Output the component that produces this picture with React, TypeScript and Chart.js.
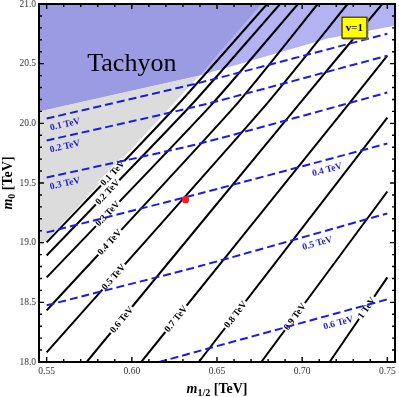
import React, { useEffect, useRef } from 'react';
import { Chart, registerables } from 'chart.js';

Chart.register(...registerables);

const X_MIN = 0.5455;
const X_MAX = 0.7545;
const Y_MIN = 18;
const Y_MAX = 21;

const xTickLabels = [0.55, 0.6, 0.65, 0.7, 0.75];
const yTickLabels = [18, 18.5, 19, 19.5, 20, 20.5, 21];

// Regions (boundary points)
const tachyonX = [X_MIN, 0.6398, 0.715, X_MAX, X_MAX, X_MIN];
const tachyonY = [20.099, 20.401, 20.71, 20.818, 21, 21];
const overlapX = [X_MIN, 0.676, 0.6398, X_MIN];
const overlapY = [21, 21, 20.401, 20.099];
const grayX = [X_MIN, X_MIN, 0.5484, 0.6398];
const grayY = [20.099, 18.98, 18.993, 20.401];

// Solid black contours
const solidLabels = ['0.1 TeV', '0.2 TeV', '0.3 TeV', '0.4 TeV', '0.5 TeV', '0.6 TeV', '0.7 TeV', '0.8 TeV', '0.9 TeV', '1 TeV'];
const solidX = [
  [0.55, 0.6265, 0.6794],
  [0.55, 0.6346, 0.687],
  [0.55, 0.6463, 0.6975],
  [0.55, 0.6608, 0.7091],
  [0.55, 0.6783, 0.7266],
  [0.5735, 0.6975, 0.747],
  [0.6055, 0.7266, 0.75],
  [0.6393, 0.75],
  [0.676, 0.75],
  [0.7161, 0.75],
];
const solidY = [
  [19.002, 20.149, 21],
  [18.893, 20.149, 21],
  [18.709, 20.149, 21],
  [18.433, 20.149, 21],
  [18.081, 20.149, 21],
  [18, 20.149, 21],
  [18, 20.149, 20.567],
  [18, 20.048],
  [18, 19.429],
  [18, 18.709],
];
const solidLabelAt = [0.5887, 0.5857, 0.5857, 0.5869, 0.5892, 0.5939, 0.6259, 0.6608, 0.6957, 0.7378];

// Dashed blue contours
const dashedLabels = ['0.1 TeV', '0.2 TeV', '0.3 TeV', '0.4 TeV', '0.5 TeV', '0.6 TeV'];
const dashedX = [
  [0.55, 0.64, 0.75],
  [0.55, 0.64, 0.75],
  [0.55, 0.64, 0.75],
  [0.55, 0.64, 0.75],
  [0.55, 0.64, 0.75],
  [0.616, 0.75],
];
const dashedY = [
  [20.04, 20.341, 20.751],
  [19.856, 20.149, 20.567],
  [19.546, 19.831, 20.258],
  [19.086, 19.412, 19.831],
  [18.475, 18.804, 19.245],
  [18, 18.525],
];
const dashedLabelAt = [0.5595, 0.5595, 0.5595, 0.7132, 0.7074, 0.7197];

// Benchmark point
const pointX = [0.6315];
const pointY = [19.36];

// Annotation anchors
const TACHYON_AT = { x: 0.6, y: 20.442 };
const BOX_AT = { x0: 0.7231, x1: 0.7383, y0: 20.894, y1: 20.71 };

const BLUE = '#1c1ce0';
const SERIF = '"Liberation Serif", "DejaVu Serif", serif';

const pts = (xs: number[], ys: number[]) => xs.map((x, i) => ({ x, y: ys[i] }));

type LabelInfo = { kind: 'solid' | 'dashed'; text: string; xs: number[]; ys: number[]; at: number };

function interp(xs: number[], ys: number[], x: number) {
  for (let i = 0; i < xs.length - 1; i++) {
    if (x >= xs[i] && x <= xs[i + 1]) {
      const t = (x - xs[i]) / (xs[i + 1] - xs[i]);
      return { y: ys[i] + t * (ys[i + 1] - ys[i]), i };
    }
  }
  return { y: ys[ys.length - 1], i: xs.length - 2 };
}

export default function App() {
  const ref = useRef<HTMLCanvasElement>(null);

  useEffect(() => {
    const canvas = ref.current;
    if (!canvas) return;

    const datasets: any[] = [];
    const labelInfo: Record<number, LabelInfo> = {};

    const region = (xs: number[], ys: number[], color: string, order: number) => ({
      type: 'scatter',
      data: pts(xs, ys),
      showLine: true,
      fill: 'shape',
      backgroundColor: color,
      borderColor: 'rgba(0,0,0,0)',
      borderWidth: 0,
      pointRadius: 0,
      tension: 0,
      order,
    });
    datasets.push(region(tachyonX, tachyonY, '#b3b3f3', 300));
    datasets.push(region(overlapX, overlapY, '#9b9be4', 290));
    datasets.push(region(grayX, grayY, '#dcdcdc', 280));

    solidX.forEach((xs, k) => {
      labelInfo[datasets.length] = { kind: 'solid', text: solidLabels[k], xs, ys: solidY[k], at: solidLabelAt[k] };
      datasets.push({
        type: 'scatter',
        data: pts(xs, solidY[k]),
        showLine: true,
        fill: false,
        borderColor: '#000',
        borderWidth: 2,
        pointRadius: 0,
        tension: 0.2,
        order: 200 - k,
      });
    });

    dashedX.forEach((xs, k) => {
      labelInfo[datasets.length] = { kind: 'dashed', text: dashedLabels[k], xs, ys: dashedY[k], at: dashedLabelAt[k] };
      datasets.push({
        type: 'scatter',
        data: pts(xs, dashedY[k]),
        showLine: true,
        fill: false,
        borderColor: BLUE,
        borderWidth: 2,
        borderDash: [8, 4],
        pointRadius: 0,
        tension: 0.2,
        order: 100 - k,
      });
    });

    datasets.push({
      type: 'scatter',
      data: pts(pointX, pointY),
      showLine: false,
      pointRadius: 3.6,
      pointBackgroundColor: '#ff1a1a',
      pointBorderWidth: 0,
      borderColor: 'rgba(0,0,0,0)',
      order: 1,
    });

    const decor = {
      id: 'decor',
      afterDatasetDraw(chart: any, args: any) {
        const info = labelInfo[args.index];
        if (!info) return;
        const { ctx, chartArea: a } = chart;
        const sx = chart.scales.x;
        const sy = chart.scales.y;
        const r = interp(info.xs, info.ys, info.at);
        const px = sx.getPixelForValue(info.at);
        const py = sy.getPixelForValue(r.y);
        const i = r.i;
        const ang = Math.atan2(
          sy.getPixelForValue(info.ys[i + 1]) - sy.getPixelForValue(info.ys[i]),
          sx.getPixelForValue(info.xs[i + 1]) - sx.getPixelForValue(info.xs[i])
        );
        ctx.save();
        ctx.beginPath();
        ctx.rect(a.left, a.top, a.right - a.left, a.bottom - a.top);
        ctx.clip();
        ctx.translate(px, py);
        ctx.rotate(ang);
        ctx.font = `bold 9.5px ${SERIF}`;
        ctx.textAlign = 'center';
        ctx.textBaseline = 'middle';
        if (info.kind === 'solid') {
          const w = ctx.measureText(info.text).width;
          ctx.fillStyle = '#fff';
          ctx.fillRect(-w / 2 - 1.5, -4.5, w + 3, 9);
          ctx.fillStyle = '#000';
          ctx.fillText(info.text, 0, 0.5);
        } else {
          ctx.fillStyle = BLUE;
          ctx.fillText(info.text, 0, 10);
        }
        ctx.restore();
      },
      afterDatasetsDraw(chart: any) {
        const { ctx } = chart;
        const sx = chart.scales.x;
        const sy = chart.scales.y;
        ctx.save();
        ctx.fillStyle = '#000';
        ctx.font = `26px ${SERIF}`;
        ctx.textAlign = 'center';
        ctx.textBaseline = 'alphabetic';
        ctx.fillText('Tachyon', sx.getPixelForValue(TACHYON_AT.x), sy.getPixelForValue(TACHYON_AT.y));

        const bx0 = sx.getPixelForValue(BOX_AT.x0);
        const bx1 = sx.getPixelForValue(BOX_AT.x1);
        const by0 = sy.getPixelForValue(BOX_AT.y0);
        const by1 = sy.getPixelForValue(BOX_AT.y1);
        ctx.fillStyle = '#888';
        ctx.fillRect(bx0 + 1, by0 + 1, bx1 - bx0, by1 - by0);
        ctx.fillStyle = '#ffff00';
        ctx.fillRect(bx0, by0, bx1 - bx0, by1 - by0);
        ctx.strokeStyle = '#000';
        ctx.lineWidth = 1;
        ctx.strokeRect(bx0 + 0.5, by0 + 0.5, bx1 - bx0 - 1, by1 - by0 - 1);
        ctx.fillStyle = '#000';
        ctx.font = `bold 11px ${SERIF}`;
        ctx.textAlign = 'center';
        ctx.textBaseline = 'middle';
        ctx.fillText('v=1', (bx0 + bx1) / 2, (by0 + by1) / 2 + 0.5);
        ctx.restore();
      },
      afterDraw(chart: any) {
        const { ctx, chartArea: a } = chart;
        const sx = chart.scales.x;
        const sy = chart.scales.y;
        ctx.save();
        ctx.strokeStyle = '#000';
        ctx.lineWidth = 1.4;
        ctx.beginPath();
        for (let v = 55; v <= 75; v++) {
          const px = sx.getPixelForValue(v / 100);
          const len = v % 5 === 0 ? 5 : 3;
          ctx.moveTo(px, a.bottom);
          ctx.lineTo(px, a.bottom - len);
          ctx.moveTo(px, a.top);
          ctx.lineTo(px, a.top + len);
        }
        for (let k = 180; k <= 210; k++) {
          const py = sy.getPixelForValue(k / 10);
          const len = k % 5 === 0 ? 5 : 3;
          ctx.moveTo(a.left, py);
          ctx.lineTo(a.left + len, py);
          ctx.moveTo(a.right, py);
          ctx.lineTo(a.right - len, py);
        }
        ctx.stroke();
        ctx.lineWidth = 2;
        ctx.strokeRect(a.left, a.top, a.right - a.left, a.bottom - a.top);

        const drawTitle = (parts: { t: string; f: string; sub?: boolean }[], cx: number, base: number) => {
          let total = 0;
          parts.forEach((p) => {
            ctx.font = p.f;
            total += ctx.measureText(p.t).width;
          });
          let xpos = cx - total / 2;
          ctx.textAlign = 'left';
          ctx.textBaseline = 'alphabetic';
          parts.forEach((p) => {
            ctx.font = p.f;
            ctx.fillText(p.t, xpos, base + (p.sub ? 2.5 : 0));
            xpos += ctx.measureText(p.t).width;
          });
        };
        ctx.fillStyle = '#000';
        drawTitle(
          [
            { t: 'm', f: `italic bold 14px ${SERIF}` },
            { t: '1/2', f: `bold 10px ${SERIF}`, sub: true },
            { t: ' [TeV]', f: `bold 14px ${SERIF}` },
          ],
          (a.left + a.right) / 2,
          393
        );
        ctx.save();
        ctx.translate(12, (a.top + a.bottom) / 2);
        ctx.rotate(-Math.PI / 2);
        drawTitle(
          [
            { t: 'm', f: `italic bold 14px ${SERIF}` },
            { t: '0', f: `bold 10px ${SERIF}`, sub: true },
            { t: ' [TeV]', f: `bold 14px ${SERIF}` },
          ],
          0,
          0
        );
        ctx.restore();
        ctx.restore();
      },
    };

    const chart = new Chart(canvas, {
      type: 'scatter',
      data: { datasets },
      options: {
        animation: false,
        responsive: false,
        events: [],
        layout: { padding: { left: 0, right: 1, top: 3, bottom: 0 } },
        plugins: { legend: { display: false }, tooltip: { enabled: false }, title: { display: false } },
        scales: {
          x: {
            type: 'linear',
            position: 'bottom',
            min: X_MIN,
            max: X_MAX,
            grid: { display: false, drawTicks: false },
            border: { display: false },
            ticks: {
              font: { family: SERIF, size: 9.5 },
              color: '#333',
              padding: 4,
              maxRotation: 0,
              autoSkip: false,
              callback: (v: any) => Number(v).toFixed(2),
            },
            afterBuildTicks: (s: any) => {
              s.ticks = xTickLabels.map((v) => ({ value: v }));
            },
            afterFit: (s: any) => {
              s.height = 35;
              s.paddingLeft = 0;
              s.paddingRight = 0;
              s.paddingTop = 0;
              s.paddingBottom = 0;
            },
          },
          y: {
            type: 'linear',
            position: 'left',
            min: Y_MIN,
            max: Y_MAX,
            grid: { display: false, drawTicks: false },
            border: { display: false },
            ticks: {
              font: { family: SERIF, size: 9.5 },
              color: '#333',
              padding: 3,
              autoSkip: false,
              callback: (v: any) => Number(v).toFixed(1),
            },
            afterBuildTicks: (s: any) => {
              s.ticks = yTickLabels.map((v) => ({ value: v }));
            },
            afterFit: (s: any) => {
              s.width = 39;
              s.paddingLeft = 0;
              s.paddingRight = 0;
              s.paddingTop = 0;
              s.paddingBottom = 0;
            },
          },
        },
      } as any,
      plugins: [decor],
    } as any);

    return () => chart.destroy();
  }, []);

  return (
    <div style={{ position: 'fixed', left: 0, top: 0, width: 399, height: 397, background: '#fff' }}>
      <canvas ref={ref} width={399} height={397} style={{ display: 'block', width: 399, height: 397 }} />
    </div>
  );
}
